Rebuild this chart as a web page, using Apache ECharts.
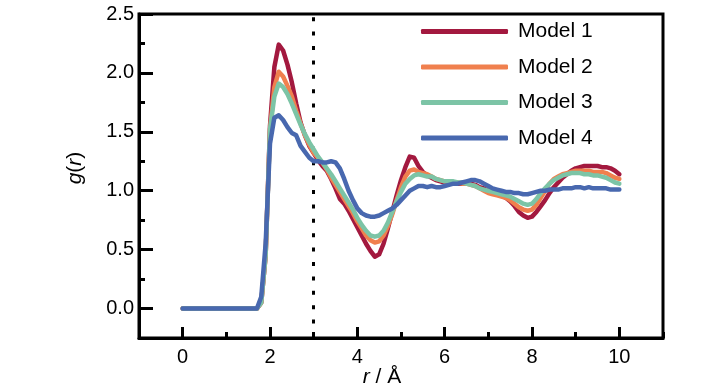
<!DOCTYPE html>
<html>
<head>
<meta charset="utf-8">
<script src="https://cdn.jsdelivr.net/npm/echarts@6/dist/echarts.min.js"></script>
<style>
html,body{margin:0;padding:0;background:#fff;}
#chart{width:728px;height:390px;}
</style>
</head>
<body>
<div id="chart"></div>
<script>
// r grid (Å)
const rValues = [0, 1.7,
  1.8, 1.9,
  2.0, 2.1, 2.2, 2.3, 2.4, 2.5, 2.6, 2.7, 2.8, 2.9,
  3.0, 3.1, 3.2, 3.3, 3.4, 3.5, 3.6, 3.7, 3.8, 3.9,
  4.0, 4.1, 4.2, 4.3, 4.4, 4.5, 4.6, 4.7, 4.8, 4.9,
  5.0, 5.1, 5.2, 5.3, 5.4, 5.5, 5.6, 5.7, 5.8, 5.9,
  6.0, 6.1, 6.2, 6.3, 6.4, 6.5, 6.6, 6.7, 6.8, 6.9,
  7.0, 7.1, 7.2, 7.3, 7.4, 7.5, 7.6, 7.7, 7.8, 7.9,
  8.0, 8.1, 8.2, 8.3, 8.4, 8.5, 8.6, 8.7, 8.8, 8.9,
  9.0, 9.1, 9.2, 9.3, 9.4, 9.5, 9.6, 9.7, 9.8, 9.9,
  10.0];

const model1 = [0, 0,
  0.05, 0.45,
  1.55, 2.05, 2.24, 2.19, 2.07, 1.92, 1.74, 1.58, 1.47, 1.38,
  1.32, 1.26, 1.21, 1.17, 1.10, 1.02, 0.93, 0.89, 0.83, 0.76,
  0.69, 0.62, 0.55, 0.49, 0.44, 0.46, 0.55, 0.68, 0.82, 0.96,
  1.09, 1.20, 1.29, 1.28, 1.21, 1.16, 1.13, 1.11, 1.09, 1.08,
  1.07, 1.06, 1.06, 1.06, 1.06, 1.06, 1.06, 1.05, 1.03, 1.02,
  1.00, 0.98, 0.97, 0.96, 0.94, 0.91, 0.87, 0.82, 0.79, 0.77,
  0.78, 0.82, 0.87, 0.92, 0.98, 1.03, 1.07, 1.11, 1.14, 1.17,
  1.19, 1.20, 1.21, 1.21, 1.21, 1.21, 1.20, 1.20, 1.19, 1.17,
  1.14];

const model2 = [0, 0,
  0.05, 0.45,
  1.52, 1.88, 2.01, 1.97, 1.89, 1.80, 1.68, 1.57, 1.47, 1.39,
  1.32, 1.28, 1.24, 1.18, 1.11, 1.05, 0.99, 0.93, 0.87, 0.81,
  0.74, 0.68, 0.62, 0.58, 0.56, 0.57, 0.62, 0.70, 0.80, 0.92,
  1.03, 1.12, 1.17, 1.18, 1.16, 1.15, 1.14, 1.12, 1.10, 1.09,
  1.08, 1.08, 1.07, 1.07, 1.06, 1.06, 1.05, 1.04, 1.02, 1.00,
  0.98, 0.97, 0.96, 0.95, 0.94, 0.92, 0.89, 0.86, 0.84, 0.83,
  0.84, 0.88, 0.94, 1.00, 1.06, 1.10, 1.12, 1.14, 1.15, 1.16,
  1.17, 1.17, 1.17, 1.17, 1.16, 1.16, 1.16, 1.15, 1.13, 1.11,
  1.10];

const model3 = [0, 0,
  0.05, 0.45,
  1.52, 1.80, 1.91, 1.88, 1.82, 1.74, 1.65, 1.56, 1.48, 1.41,
  1.35, 1.29, 1.24, 1.19, 1.14, 1.08, 1.02, 0.96, 0.90, 0.84,
  0.77, 0.71, 0.66, 0.62, 0.61, 0.62, 0.66, 0.73, 0.82, 0.91,
  0.99, 1.06, 1.10, 1.13, 1.14, 1.13, 1.12, 1.12, 1.10, 1.09,
  1.08, 1.08, 1.08, 1.07, 1.07, 1.06, 1.05, 1.04, 1.02, 1.01,
  1.00, 0.99, 0.98, 0.97, 0.96, 0.95, 0.93, 0.91, 0.89, 0.88,
  0.89, 0.93, 0.98, 1.02, 1.06, 1.09, 1.11, 1.13, 1.14, 1.15,
  1.15, 1.15, 1.14, 1.14, 1.13, 1.13, 1.12, 1.11, 1.09, 1.07,
  1.06];

const model4 = [0, 0,
  0.10, 0.55,
  1.40, 1.62, 1.64, 1.60, 1.54, 1.49, 1.47, 1.38, 1.33, 1.28,
  1.25, 1.25, 1.24, 1.24, 1.25, 1.24, 1.19, 1.10, 1.00, 0.92,
  0.85, 0.81, 0.79, 0.78, 0.78, 0.79, 0.81, 0.83, 0.85, 0.88,
  0.92, 0.96, 1.00, 1.02, 1.04, 1.04, 1.03, 1.04, 1.03, 1.03,
  1.04, 1.05, 1.06, 1.06, 1.07, 1.08, 1.09, 1.09, 1.08, 1.06,
  1.04, 1.02, 1.01, 1.00, 0.99, 0.99, 0.98, 0.98, 0.97, 0.97,
  0.98, 0.99, 1.00, 1.00, 1.01, 1.01, 1.01, 1.02, 1.02, 1.02,
  1.03, 1.03, 1.02, 1.03, 1.02, 1.02, 1.02, 1.02, 1.01, 1.01,
  1.01];

const seriesNames = ['Model 1', 'Model 2', 'Model 3', 'Model 4'];
const seriesColors = ['#A3193F', '#F0804E', '#7CC4A6', '#4868AF'];
const xMajorTicks = [0, 2, 4, 6, 8, 10];
const yMajorTicks = [0, 0.5, 1.0, 1.5, 2.0, 2.5];
const cutoffR = 3;

const FONT = '"Liberation Sans Narrow", "Liberation Sans", Arial, sans-serif';
const allModels = [model1, model2, model3, model4];

const chart = echarts.init(document.getElementById('chart'), null, {renderer: 'canvas'});

const series = allModels.map((vals, i) => ({
  name: seriesNames[i],
  type: 'line',
  xAxisIndex: 0,
  yAxisIndex: 0,
  data: vals.map((v, j) => [rValues[j], v]),
  showSymbol: false,
  symbol: 'none',
  smooth: false,
  lineStyle: {width: 4.5, color: seriesColors[i], cap: 'round', join: 'round'},
  itemStyle: {color: seriesColors[i]},
  z: 3
}));
series[0].markLine = {
  silent: true,
  symbol: ['none', 'none'],
  label: {show: false},
  lineStyle: {color: '#000', width: 3, type: [4, 10.4]},
  data: [{xAxis: cutoffR}],
  z: 2
};

const option = {
  animation: false,
  backgroundColor: '#fff',
  grid: {left: 139, right: 65, top: 14, bottom: 52, show: true, borderColor: '#000', borderWidth: 3, backgroundColor: 'transparent'},
  legend: {
    orient: 'vertical',
    left: 421,
    top: 20,
    padding: 0,
    itemWidth: 87,
    itemHeight: 5,
    itemGap: 12.5,
    icon: 'roundRect',
    textStyle: {fontFamily: FONT, fontSize: 21, color: '#000', lineHeight: 23, padding: [0, 0, 0, 5]},
    data: seriesNames
  },
  xAxis: [
    {
      type: 'value', min: -1, max: 11, position: 'bottom',
      axisLine: {show: true, onZero: false, lineStyle: {color: '#000', width: 3}},
      axisTick: {show: true, inside: true, length: 11, lineStyle: {color: '#000', width: 3}, customValues: xMajorTicks},
      axisLabel: {show: true, customValues: xMajorTicks, fontFamily: FONT, fontSize: 20, color: '#000', margin: 9},
      splitLine: {show: false}
    },
    {
      type: 'value', min: -1, max: 11, interval: 1, position: 'bottom',
      axisLine: {show: false, onZero: false},
      axisTick: {show: true, inside: true, length: 6, lineStyle: {color: '#000', width: 3}},
      axisLabel: {show: false},
      splitLine: {show: false}
    }
  ],
  yAxis: [
    {
      type: 'value', min: -0.25, max: 2.5, position: 'left',
      axisLine: {show: true, onZero: false, lineStyle: {color: '#000', width: 3}},
      axisTick: {show: true, inside: true, length: 14, lineStyle: {color: '#000', width: 3}, customValues: yMajorTicks},
      axisLabel: {show: true, customValues: yMajorTicks, fontFamily: FONT, fontSize: 20, color: '#000', margin: 5,
        formatter: v => Number(v).toFixed(1)},
      splitLine: {show: false}
    },
    {
      type: 'value', min: -0.25, max: 2.5, interval: 0.25, position: 'left', offset: 0,
      axisLine: {show: false, onZero: false},
      axisTick: {show: true, inside: true, length: 6, lineStyle: {color: '#000', width: 3}},
      axisLabel: {show: false},
      splitLine: {show: false}
    }
  ],
  graphic: [
    {
      type: 'text', x: 75, y: 168, rotation: Math.PI / 2,
      style: {
        text: '{i|g}{n|(}{i|r}{n|)}',
        align: 'center', verticalAlign: 'middle',
        rich: {
          i: {fontFamily: FONT, fontSize: 21, fontStyle: 'italic', fill: '#000'},
          n: {fontFamily: FONT, fontSize: 21, fill: '#000'}
        }
      }
    },
    {
      type: 'text', x: 382, y: 377,
      style: {
        text: '{i|r}{n| / Å}',
        align: 'center', verticalAlign: 'middle',
        rich: {
          i: {fontFamily: FONT, fontSize: 21, fontStyle: 'italic', fill: '#000'},
          n: {fontFamily: FONT, fontSize: 21, fill: '#000'}
        }
      }
    }
  ],
  series: series
};
chart.setOption(option);
</script>
</body>
</html>
